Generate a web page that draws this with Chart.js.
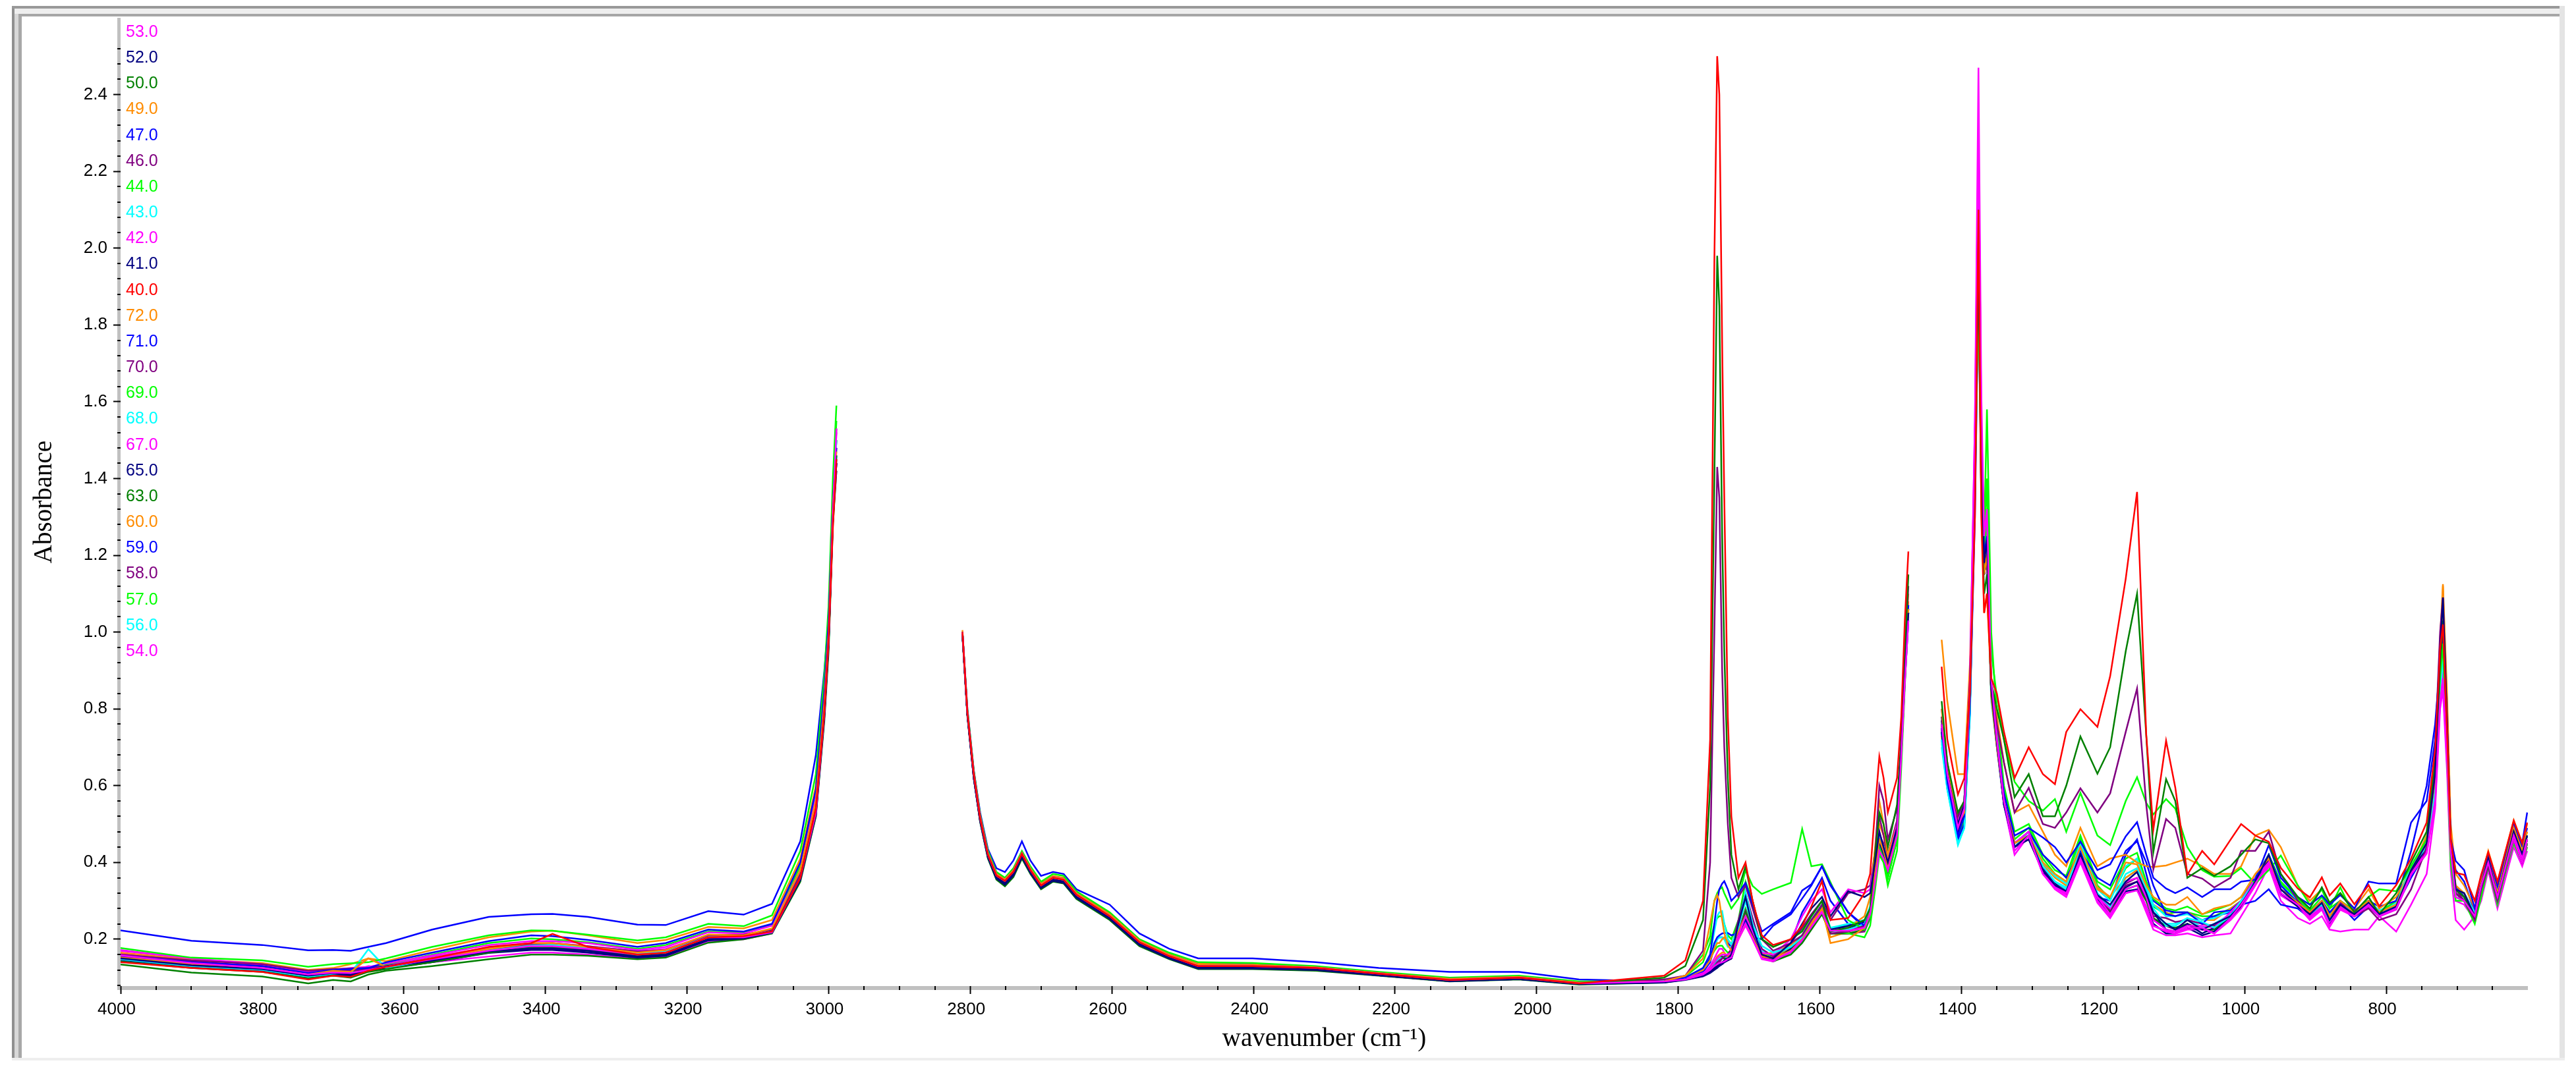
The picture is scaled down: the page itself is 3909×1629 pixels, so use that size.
<!DOCTYPE html>
<html>
<head>
<meta charset="utf-8">
<title>Absorbance spectra</title>
<script src="https://cdn.jsdelivr.net/npm/chart.js@4"></script>
<style>
html, body { margin: 0; background: #fff; }
canvas { display: block; }
</style>
</head>
<body>
<canvas id="spectra" width="3909" height="1629"></canvas>
<script>
// Sample grid, null rows in the spectra leave the two cut-out regions empty
const wavenumbers = [
  4000,3900,3800,3735,3700,3675,3650,3625,3560,3480,3420,3390,3340,3270,3230,3170,3120,3080,3040,3018,3006,3000,2994,2989, 2950,
  2811,2804,2795,2786,2775,2763,2751,2739,2727,2715,2700,2683,2668,2650,2603,2561,2519,2478,2401,2312,2223,2123,2025,1940,
  1820,1790,1765,1755,1749,1745,1742,1738,1735,1730,1725,1715,1705,1695,1682,1666,1641,1625,1612,1597,1585,1560,1537,1529,1522,1516,1510,1504,1491,1485,1480,1475, 1450,
  1428,1420,1405,1396,1388,1381,1376,1372,1368,1364,1358,1350,1340,1325,1305,1285,1268,1252,1232,1208,
  1190,1168,1152,1139,1129,1111,1098,1081,1060,1043,1020,1005,985,966,949,925,908,891,880,865,
  845,825,810,786,765,743,731,724,720,714,709,702,690,675,666,656,643,620,608,601
];

// 2800-1900 is almost the same for most samples, these four rows cover the tight band
const midA = [1.0,.79,.63,.515,.42,.366,.352,.376,.422,.38,.34,.36,.355,.316,.26,.192,.156,.13,.13,.125,.11,.094,.1,.085];
const midB = [.995,.785,.625,.51,.416,.36,.346,.37,.417,.375,.335,.355,.35,.31,.255,.187,.152,.126,.127,.122,.107,.092,.098,.084];
const midC = [1.0,.79,.635,.52,.424,.37,.356,.38,.425,.384,.344,.362,.358,.32,.265,.196,.159,.134,.133,.127,.112,.097,.102,.087];
const midD = [.995,.785,.62,.508,.413,.358,.342,.366,.414,.373,.333,.352,.347,.308,.253,.185,.15,.124,.124,.12,.106,.091,.096,.083];

const s53 = [.158,.138,.125,.108,.113,.112,.12,.128,.148,.17,.182,.182,.175,.16,.165,.205,.205,.218,.36,.53,.79,.98,1.3,1.53, null, ...midA,
  .09,.095,.108,.12,.13,.135,.138,.14,.142,.148,.152,.2,.24,.2,.15,.145,.168,.198,.232,.27,.222,.222,.23,.265,.35,.43,.41,.38,.47,.68,.87,1.03, null,
  .76,.63,.49,.54,.86,1.55,2.47,1.62,1.25,1.32,.88,.72,.56,.43,.47,.37,.335,.32,.41,.31,
  .265,.33,.34,.285,.235,.222,.215,.23,.23,.215,.255,.29,.345,.4,.32,.29,.255,.28,.235,.28,
  .26,.29,.26,.28,.37,.425,.56,.82,.88,.66,.43,.31,.3,.26,.34,.4,.31,.47,.41,.46];
const s52 = [.15,.132,.122,.105,.112,.108,.12,.13,.145,.168,.176,.176,.17,.155,.16,.2,.205,.22,.36,.53,.79,.98,1.3,1.45, null, ...midB,
  .088,.095,.105,.115,.125,.13,.135,.14,.145,.15,.16,.24,.31,.23,.16,.15,.19,.24,.28,.31,.26,.325,.31,.32,.4,.48,.44,.4,.49,.7,.89,1.05, null,
  .76,.63,.5,.55,.85,1.45,2.05,1.45,1.18,1.24,.85,.71,.56,.44,.47,.38,.34,.325,.42,.315,
  .29,.35,.375,.32,.27,.24,.225,.25,.225,.24,.26,.29,.35,.42,.33,.29,.265,.295,.25,.29,
  .265,.295,.265,.285,.38,.45,.63,.95,1.09,.76,.45,.33,.32,.26,.34,.41,.31,.48,.42,.47];
const s50 = [.142,.125,.115,.098,.105,.1,.115,.122,.14,.165,.178,.178,.17,.158,.163,.2,.205,.22,.36,.53,.79,.97,1.3,1.46, null, ...midB,
  .1,.13,.25,.6,1.4,1.98,1.85,1.25,.95,.62,.42,.33,.39,.3,.2,.18,.2,.22,.26,.3,.22,.23,.25,.28,.42,.53,.5,.44,.55,.72,.95,1.15, null,
  .82,.66,.53,.56,.85,1.4,1.95,1.35,1.1,1.15,.87,.8,.72,.57,.63,.52,.52,.6,.728,.631,
  .7,.95,1.1,.73,.427,.617,.56,.36,.385,.365,.39,.42,.46,.45,.37,.31,.28,.335,.295,.32,
  .27,.31,.265,.32,.4,.48,.66,.92,1.03,.7,.44,.33,.31,.26,.34,.4,.31,.48,.42,.47];
const s49 = [.152,.135,.125,.108,.118,.115,.15,.128,.15,.175,.19,.19,.18,.165,.172,.212,.21,.228,.38,.56,.82,1.0,1.33,1.47, null, ...midC,
  .09,.105,.15,.24,.3,.315,.3,.25,.216,.185,.17,.2,.24,.205,.155,.15,.17,.2,.24,.28,.19,.2,.23,.27,.38,.46,.43,.39,.49,.7,.9,1.06, null,
  .8,.66,.5,.53,.85,1.4,1.9,1.35,1.15,1.2,.83,.7,.56,.45,.47,.4,.37,.35,.44,.33,
  .31,.4,.395,.34,.31,.29,.29,.31,.265,.28,.29,.31,.37,.41,.33,.295,.27,.3,.26,.3,
  .27,.3,.27,.29,.38,.45,.62,.92,1.08,.74,.44,.33,.32,.26,.35,.41,.32,.49,.43,.48];
const s47 = [.157,.14,.13,.112,.12,.122,.125,.14,.165,.195,.21,.208,.198,.18,.19,.225,.22,.24,.4,.59,.85,1.03,1.34,1.48, null, ...midC,
  .09,.1,.125,.16,.24,.3,.33,.345,.351,.33,.3,.32,.347,.29,.22,.24,.27,.327,.343,.39,.343,.27,.235,.27,.38,.46,.43,.39,.49,.7,.9,1.07, null,
  .75,.61,.47,.52,.82,1.4,2.1,1.5,1.2,1.25,.85,.72,.58,.47,.49,.465,.44,.4,.454,.38,
  .395,.468,.505,.42,.36,.332,.32,.335,.31,.33,.33,.35,.355,.445,.36,.31,.29,.314,.29,.315,
  .28,.35,.345,.345,.504,.56,.72,.95,1.02,.75,.46,.404,.38,.28,.36,.42,.34,.5,.45,.53];
const s46 = [.16,.145,.135,.118,.122,.124,.125,.13,.15,.175,.188,.19,.182,.168,.172,.21,.212,.225,.37,.55,.81,1.0,1.29,1.42, null, ...midA,
  .095,.105,.17,.4,1.0,1.43,1.35,.9,.7,.5,.36,.31,.34,.28,.2,.17,.19,.21,.25,.29,.215,.22,.235,.27,.42,.6,.56,.46,.54,.7,.92,1.12, null,
  .78,.64,.52,.56,.88,1.4,2.0,1.4,1.15,1.2,.86,.76,.66,.53,.594,.5,.49,.53,.593,.53,
  .58,.74,.853,.55,.382,.513,.49,.37,.358,.335,.36,.43,.43,.48,.37,.3,.265,.3,.26,.295,
  .26,.28,.25,.265,.33,.44,.7,1.0,1.09,.75,.46,.33,.3,.25,.33,.39,.3,.47,.41,.46];
const s44 = [.177,.152,.145,.128,.135,.137,.14,.15,.18,.21,.223,.222,.212,.197,.205,.24,.234,.262,.43,.63,.89,1.07,1.4,1.59, null,
  1.0,.8,.64,.525,.43,.375,.36,.385,.43,.39,.35,.37,.365,.325,.27,.2,.165,.14,.138,.13,.115,.1,.105,.09,
  .09,.105,.16,.208,.3,.32,.33,.335,.32,.3,.28,.306,.38,.339,.318,.33,.347,.487,.39,.395,.348,.25,.225,.26,.36,.44,.41,.36,.46,.68,.88,1.07, null,
  .78,.63,.52,.56,.85,1.35,1.9,1.4,1.2,1.4,.95,.83,.72,.61,.56,.535,.565,.48,.581,.47,
  .445,.56,.622,.555,.525,.565,.54,.44,.38,.363,.365,.385,.345,.38,.418,.34,.29,.33,.28,.335,
  .26,.31,.33,.325,.39,.46,.62,.88,.97,.66,.4,.3,.3,.24,.31,.39,.29,.47,.42,.45];
const s43 = [.148,.13,.12,.102,.11,.112,.174,.125,.148,.17,.183,.185,.176,.162,.168,.208,.207,.222,.37,.54,.8,.99,1.35,1.5, null, ...midA,
  .09,.1,.125,.16,.22,.26,.27,.273,.24,.2,.187,.23,.323,.24,.183,.165,.18,.205,.25,.29,.22,.225,.24,.28,.39,.47,.44,.39,.48,.69,.89,1.06, null,
  .72,.6,.45,.49,.8,1.4,2.0,1.42,1.2,1.25,.85,.72,.57,.44,.47,.39,.35,.33,.44,.32,
  .285,.37,.385,.33,.28,.235,.235,.255,.245,.23,.26,.3,.35,.42,.33,.29,.265,.29,.25,.29,
  .265,.295,.265,.29,.39,.44,.59,.85,.93,.68,.43,.33,.32,.27,.34,.41,.32,.485,.43,.47];
const s42 = [.17,.15,.135,.115,.12,.125,.128,.137,.158,.185,.195,.195,.19,.172,.18,.218,.215,.235,.38,.57,.83,1.01,1.33,1.53, null, ...midC,
  .09,.098,.112,.125,.14,.15,.155,.16,.16,.16,.165,.21,.26,.22,.165,.16,.2,.26,.3,.33,.27,.33,.32,.33,.41,.48,.44,.4,.5,.7,.88,1.04, null,
  .8,.66,.51,.56,.88,1.55,2.3,1.55,1.25,1.3,.87,.73,.58,.45,.48,.38,.34,.32,.41,.31,
  .28,.35,.36,.31,.25,.225,.22,.235,.235,.23,.27,.3,.36,.4,.33,.29,.26,.285,.245,.285,
  .26,.29,.26,.28,.37,.43,.58,.85,.9,.67,.42,.31,.3,.25,.33,.39,.3,.46,.4,.45];
const s41 = [.146,.128,.118,.1,.108,.105,.118,.125,.143,.166,.174,.174,.166,.153,.158,.198,.203,.218,.355,.53,.79,.97,1.29,1.44, null, ...midD,
  .088,.095,.105,.115,.122,.128,.132,.135,.14,.145,.15,.21,.255,.215,.155,.145,.175,.21,.25,.285,.225,.235,.245,.28,.37,.45,.42,.385,.48,.69,.88,1.05, null,
  .74,.62,.48,.53,.84,1.45,2.0,1.4,1.15,1.2,.84,.71,.56,.44,.47,.385,.345,.32,.42,.31,
  .28,.335,.35,.31,.27,.225,.22,.24,.215,.23,.26,.29,.35,.41,.32,.285,.26,.29,.245,.285,
  .26,.29,.26,.28,.375,.44,.61,.9,1.04,.72,.43,.33,.31,.26,.34,.41,.31,.48,.42,.46];
const s40 = [.14,.125,.115,.095,.105,.102,.118,.128,.15,.18,.19,.214,.18,.16,.165,.205,.208,.22,.36,.54,.79,.98,1.27,1.45, null, ...midA,
  .105,.145,.3,.72,1.97,2.5,2.4,1.75,1.35,.78,.52,.36,.4,.3,.21,.185,.2,.235,.285,.351,.25,.255,.32,.37,.54,.676,.62,.53,.62,.78,1.03,1.21, null,
  .91,.72,.577,.62,.85,1.3,2.1,1.3,1.05,1.1,.88,.84,.74,.62,.7,.63,.604,.74,.799,.753,
  .885,1.139,1.365,.731,.486,.717,.595,.368,.43,.395,.459,.5,.47,.454,.386,.332,.309,.361,.314,.345,
  .291,.341,.286,.341,.41,.504,.695,.957,1.02,.731,.459,.373,.368,.3,.368,.427,.35,.509,.45,.504];
const s72 = [.165,.147,.138,.12,.125,.135,.15,.143,.172,.205,.22,.222,.21,.19,.198,.232,.228,.25,.41,.6,.86,1.05,1.36,1.5, null,
  1.005,.79,.635,.52,.425,.372,.358,.38,.428,.388,.348,.365,.36,.322,.268,.198,.162,.138,.135,.128,.112,.098,.103,.088,
  .09,.1,.12,.145,.175,.19,.19,.2,.205,.195,.19,.22,.26,.215,.16,.165,.185,.21,.245,.29,.22,.23,.26,.31,.44,.56,.5,.42,.5,.72,.96,1.1, null,
  .98,.82,.63,.63,.92,1.5,2.05,1.35,1.05,1.1,.86,.78,.66,.53,.55,.48,.42,.39,.49,.39,
  .41,.42,.4,.39,.388,.392,.4,.41,.39,.37,.37,.39,.47,.485,.44,.34,.3,.33,.29,.32,
  .28,.33,.28,.31,.38,.47,.68,.98,1.125,.83,.5,.37,.34,.28,.36,.43,.35,.51,.45,.5];
const s71 = [.223,.196,.185,.171,.172,.17,.18,.19,.225,.258,.265,.266,.258,.238,.237,.273,.264,.292,.455,.68,.9,1.04,1.33,1.5, null,
  1.0,.8,.64,.53,.435,.385,.375,.405,.455,.405,.365,.375,.37,.33,.29,.215,.175,.15,.15,.14,.125,.115,.115,.095,
  .09,.1,.12,.15,.19,.205,.21,.215,.216,.216,.21,.216,.25,.205,.2,.235,.265,.306,.34,.39,.34,.27,.23,.265,.37,.45,.42,.39,.49,.7,.9,1.05, null,
  .74,.6,.46,.5,.8,1.3,1.9,1.35,1.15,1.2,.84,.71,.56,.45,.48,.42,.39,.36,.43,.36,
  .34,.43,.455,.4,.34,.265,.26,.27,.24,.27,.275,.3,.36,.42,.34,.295,.27,.3,.27,.3,
  .27,.3,.285,.3,.43,.6,.76,.92,1.0,.74,.45,.38,.35,.27,.34,.41,.33,.49,.44,.49];
const s70 = [.155,.142,.13,.113,.118,.118,.122,.127,.146,.17,.182,.183,.175,.16,.166,.205,.208,.222,.365,.54,.8,.99,1.3,1.44, null, ...midB,
  .09,.096,.108,.12,.13,.135,.14,.15,.155,.16,.175,.25,.32,.255,.175,.155,.19,.23,.265,.3,.25,.32,.33,.34,.43,.52,.47,.42,.51,.71,.9,1.06, null,
  .76,.63,.5,.55,.87,1.45,2.05,1.45,1.2,1.25,.86,.72,.56,.44,.47,.385,.345,.325,.42,.31,
  .275,.345,.36,.31,.26,.255,.245,.25,.24,.235,.26,.29,.35,.41,.33,.295,.27,.3,.27,.295,
  .275,.3,.27,.285,.375,.44,.63,.98,1.1,.76,.44,.32,.3,.26,.33,.39,.3,.46,.4,.45];
const s69 = [.158,.138,.128,.11,.118,.118,.122,.135,.16,.19,.202,.2,.192,.175,.185,.22,.218,.238,.39,.58,.84,1.03,1.36,1.55, null, ...midC,
  .09,.103,.14,.19,.24,.255,.26,.26,.24,.21,.2,.25,.35,.3,.2,.18,.2,.225,.26,.3,.225,.215,.205,.235,.33,.42,.4,.34,.43,.65,.86,1.05, null,
  .74,.61,.47,.51,.82,1.4,2.0,1.45,1.25,1.58,1.0,.78,.6,.48,.5,.42,.38,.365,.47,.35,
  .33,.41,.425,.35,.305,.28,.275,.285,.265,.275,.29,.31,.36,.42,.35,.305,.275,.31,.28,.3,
  .275,.3,.27,.3,.39,.46,.63,.9,.98,.7,.43,.32,.3,.25,.33,.39,.3,.47,.41,.46];
const s68 = [.146,.128,.12,.103,.11,.11,.12,.127,.148,.172,.184,.185,.178,.164,.17,.21,.208,.224,.37,.55,.81,1.0,1.34,1.5, null, ...midA,
  .09,.1,.12,.145,.18,.2,.205,.205,.2,.18,.18,.23,.3,.23,.17,.158,.18,.21,.25,.29,.23,.24,.25,.285,.39,.47,.44,.395,.49,.7,.9,1.07, null,
  .71,.59,.445,.49,.79,1.38,1.95,1.42,1.2,1.25,.84,.71,.56,.44,.48,.4,.365,.345,.45,.33,
  .3,.39,.41,.34,.29,.26,.26,.265,.25,.255,.275,.3,.36,.42,.34,.3,.27,.3,.265,.295,
  .27,.3,.275,.295,.39,.45,.6,.87,.95,.69,.43,.33,.31,.265,.34,.41,.32,.49,.43,.47];
const s67 = [.172,.15,.133,.112,.118,.12,.15,.132,.155,.178,.19,.19,.182,.168,.175,.21,.21,.225,.37,.55,.81,.99,1.32,1.52, null, ...midB,
  .09,.095,.105,.115,.125,.13,.135,.14,.14,.145,.15,.205,.245,.205,.15,.142,.17,.2,.235,.275,.225,.225,.232,.27,.36,.44,.41,.38,.48,.7,.88,1.05, null,
  .75,.62,.5,.55,.85,1.5,2.2,1.5,1.2,1.25,.85,.72,.56,.44,.47,.37,.335,.315,.404,.3,
  .259,.32,.327,.28,.235,.22,.214,.225,.225,.215,.25,.28,.34,.395,.314,.286,.25,.277,.232,.277,
  .259,.286,.259,.277,.368,.423,.55,.82,.88,.65,.42,.3,.29,.25,.33,.39,.3,.46,.4,.45];
const s65 = [.144,.126,.116,.098,.107,.103,.116,.124,.14,.164,.172,.172,.165,.152,.157,.197,.202,.217,.355,.525,.78,.97,1.29,1.44, null, ...midD,
  .087,.094,.103,.112,.12,.125,.13,.135,.14,.145,.15,.205,.25,.21,.152,.145,.172,.205,.24,.28,.225,.23,.24,.275,.37,.45,.42,.38,.48,.69,.89,1.06, null,
  .77,.63,.51,.56,.86,1.45,2.02,1.42,1.15,1.2,.84,.71,.55,.44,.46,.375,.34,.32,.41,.305,
  .265,.325,.33,.285,.24,.215,.215,.23,.21,.22,.255,.285,.345,.405,.32,.285,.255,.285,.24,.28,
  .26,.285,.26,.28,.37,.43,.59,.87,1.0,.7,.43,.32,.3,.26,.34,.4,.31,.47,.41,.46];
const s63 = [.134,.113,.103,.085,.094,.09,.108,.118,.13,.148,.16,.16,.157,.148,.152,.191,.2,.215,.35,.52,.77,.95,1.28,1.42, null,
  .99,.78,.62,.505,.41,.355,.338,.362,.41,.37,.33,.35,.345,.305,.25,.182,.148,.122,.122,.118,.105,.09,.095,.082,
  .087,.095,.108,.125,.14,.15,.155,.155,.15,.145,.15,.21,.27,.22,.155,.142,.16,.19,.225,.265,.215,.215,.225,.26,.35,.43,.41,.36,.46,.68,.88,1.06, null,
  .75,.62,.49,.54,.84,1.4,1.95,1.4,1.15,1.2,.84,.71,.56,.45,.47,.385,.35,.325,.42,.315,
  .27,.33,.34,.3,.255,.235,.23,.24,.225,.225,.26,.295,.35,.41,.33,.3,.27,.295,.26,.29,
  .265,.29,.26,.28,.37,.43,.59,.85,.94,.68,.42,.32,.3,.25,.33,.39,.3,.46,.4,.45];
const s60 = [.152,.134,.124,.107,.115,.112,.12,.128,.15,.173,.186,.186,.178,.163,.17,.21,.208,.225,.37,.55,.81,1.0,1.33,1.48, null, ...midC,
  .09,.098,.11,.125,.14,.155,.16,.165,.165,.155,.16,.215,.265,.22,.16,.15,.175,.205,.235,.27,.205,.22,.235,.27,.37,.5,.47,.41,.5,.72,.92,1.08, null,
  .73,.61,.46,.5,.8,1.4,2.0,1.42,1.18,1.22,.84,.72,.57,.45,.48,.395,.36,.34,.44,.335,
  .31,.36,.38,.33,.29,.27,.26,.27,.25,.25,.28,.3,.36,.42,.33,.29,.265,.3,.26,.295,
  .27,.3,.27,.29,.38,.45,.62,.93,1.12,.78,.46,.34,.32,.27,.35,.42,.33,.5,.44,.48];
const s59 = [.15,.132,.122,.104,.112,.11,.118,.126,.146,.17,.18,.18,.172,.158,.164,.205,.206,.22,.36,.54,.79,.99,1.3,1.46, null, ...midB,
  .088,.098,.115,.14,.18,.2,.205,.205,.2,.19,.18,.215,.26,.21,.155,.15,.19,.27,.31,.36,.3,.24,.225,.265,.37,.45,.42,.38,.47,.68,.87,1.03, null,
  .72,.6,.45,.5,.8,1.35,2.0,1.4,1.15,1.2,.84,.7,.55,.44,.47,.38,.345,.33,.43,.31,
  .3,.42,.46,.37,.3,.275,.27,.27,.25,.26,.27,.29,.3,.33,.29,.28,.255,.29,.25,.29,
  .25,.285,.26,.285,.36,.43,.6,.84,.92,.67,.42,.34,.31,.26,.34,.4,.31,.48,.42,.47];
const s58 = [.148,.13,.12,.103,.11,.107,.118,.125,.143,.167,.177,.178,.17,.156,.162,.202,.204,.22,.36,.53,.79,.98,1.29,1.44, null, ...midD,
  .088,.096,.107,.118,.13,.14,.145,.15,.15,.15,.16,.22,.275,.225,.16,.15,.175,.205,.24,.275,.215,.215,.22,.255,.36,.47,.45,.4,.49,.7,.89,1.05, null,
  .75,.62,.49,.54,.85,1.42,2.0,1.42,1.18,1.23,.85,.71,.55,.44,.46,.38,.34,.32,.41,.31,
  .27,.34,.35,.3,.25,.235,.225,.24,.225,.22,.255,.285,.345,.4,.32,.29,.265,.29,.25,.285,
  .26,.29,.26,.28,.37,.43,.6,.9,1.05,.73,.43,.32,.3,.25,.33,.39,.3,.46,.4,.45];
const s57 = [.155,.136,.125,.106,.115,.114,.12,.13,.152,.176,.188,.188,.18,.166,.172,.212,.21,.226,.375,.56,.82,1.01,1.34,1.53, null, ...midA,
  .09,.1,.125,.15,.17,.18,.183,.183,.175,.165,.17,.22,.28,.23,.165,.155,.18,.21,.245,.285,.22,.225,.235,.27,.37,.45,.42,.37,.47,.68,.88,1.06, null,
  .73,.61,.47,.51,.82,1.4,2.0,1.42,1.2,1.3,.88,.75,.59,.46,.49,.41,.37,.35,.46,.34,
  .305,.385,.41,.34,.285,.265,.27,.27,.26,.26,.28,.3,.355,.42,.345,.3,.27,.3,.26,.3,
  .27,.295,.27,.29,.38,.44,.6,.86,.94,.67,.41,.31,.3,.25,.32,.39,.3,.45,.4,.44];
const s56 = [.144,.127,.118,.1,.108,.106,.118,.124,.142,.166,.176,.176,.17,.156,.162,.202,.204,.22,.36,.54,.79,.99,1.32,1.48, null, ...midC,
  .088,.097,.11,.122,.135,.145,.15,.155,.155,.15,.155,.21,.27,.22,.16,.15,.175,.21,.245,.285,.23,.235,.245,.28,.38,.46,.43,.39,.48,.69,.89,1.06, null,
  .7,.59,.45,.49,.78,1.38,1.98,1.4,1.15,1.2,.82,.7,.56,.44,.47,.39,.35,.335,.44,.32,
  .28,.36,.38,.33,.27,.24,.24,.255,.23,.24,.265,.295,.35,.41,.33,.29,.265,.29,.25,.29,
  .265,.295,.265,.285,.38,.44,.6,.86,.94,.68,.42,.33,.31,.26,.34,.41,.31,.48,.42,.46];
const s54 = [.162,.14,.128,.11,.115,.115,.13,.125,.14,.155,.165,.165,.16,.15,.155,.195,.2,.215,.355,.52,.78,.97,1.3,1.52, null, ...midD,
  .09,.097,.11,.13,.15,.165,.175,.175,.165,.15,.15,.2,.235,.2,.148,.142,.165,.195,.23,.27,.22,.22,.23,.265,.35,.43,.4,.37,.47,.68,.87,1.03, null,
  .77,.64,.51,.56,.87,1.5,2.3,1.55,1.22,1.28,.86,.72,.55,.42,.47,.37,.33,.31,.4,.295,
  .255,.32,.33,.27,.225,.21,.21,.215,.205,.21,.215,.26,.32,.39,.3,.255,.24,.26,.225,.22,
  .225,.225,.26,.22,.29,.37,.54,.8,.85,.63,.38,.25,.225,.26,.3,.38,.28,.44,.39,.43];

const sampleLabels = ['53.0','52.0','50.0','49.0','47.0','46.0','44.0','43.0','42.0','41.0','40.0','72.0','71.0','70.0','69.0','68.0','67.0','65.0','63.0','60.0','59.0','58.0','57.0','56.0','54.0'];
const spectra = [s53,s52,s50,s49,s47,s46,s44,s43,s42,s41,s40,s72,s71,s70,s69,s68,s67,s65,s63,s60,s59,s58,s57,s56,s54];
const sampleColors = ['#ff00ff','#000080','#008000','#ff8c00','#0000ff','#800080','#00ff00','#00ffff','#ff00ff','#000080','#ff0000','#ff8c00','#0000ff','#800080','#00ff00','#00ffff','#ff00ff','#000080','#008000','#ff8c00','#0000ff','#800080','#00ff00','#00ffff','#ff00ff'];

const xMajorTicks = [4000,3800,3600,3400,3200,3000,2800,2600,2400,2200,2000,1800,1600,1400,1200,1000,800];
const yMajorTicks = [0.2,0.4,0.6,0.8,1.0,1.2,1.4,1.6,1.8,2.0,2.2,2.4];

// Minor ticks, band along the axes, outer window frame and the sample list
const decorations = {
  id: 'decorations',
  beforeDraw(chart) {
    const c = chart.ctx;
    const a = chart.chartArea;
    c.save();
    c.fillStyle = '#909090'; c.fillRect(18, 9, 4, 1600);
    c.fillStyle = '#d8d8d8'; c.fillRect(22, 13, 6, 1596);
    c.fillStyle = '#a8a8a8'; c.fillRect(28, 21, 5, 1588);
    c.fillStyle = '#999999'; c.fillRect(18, 9, 3870, 4);
    c.fillStyle = '#eeeeee'; c.fillRect(22, 13, 3866, 8);
    c.fillStyle = '#a6a6a6'; c.fillRect(28, 21, 3860, 4);
    c.fillStyle = '#e4e4e4'; c.fillRect(3884, 9, 8, 1600);
    c.fillStyle = '#eeeeee'; c.fillRect(18, 1606, 3874, 4);
    c.fillStyle = '#c0c0c0';
    c.fillRect(a.left - 5, a.top, 5, a.bottom - a.top + 6);
    c.fillRect(a.left, a.bottom, a.right - a.left, 6);
    c.restore();
  },
  afterDraw(chart) {
    const c = chart.ctx;
    const a = chart.chartArea;
    c.save();
    c.strokeStyle = '#000';
    c.lineWidth = 2;
    c.beginPath();
    for (let w = 3950; w >= 650; w -= 50) {
      if (w % 200 === 0) continue;
      const x = Math.round(chart.scales.x.getPixelForValue(w));
      c.moveTo(x, a.bottom);
      c.lineTo(x, a.bottom + 6);
    }
    for (let k = 2; k <= 63; k++) {
      if (k % 5 === 0) continue;
      const y = Math.round(chart.scales.y.getPixelForValue(k * 0.04));
      c.moveTo(a.left - 5, y);
      c.lineTo(a.left, y);
    }
    c.stroke();
    c.font = '25px "Liberation Sans"';
    c.textBaseline = 'middle';
    c.textAlign = 'left';
    sampleLabels.forEach((label, i) => {
      c.fillStyle = sampleColors[i];
      c.fillText(label, 191, 49 + i * 39.17);
    });
    c.restore();
  }
};

new Chart(document.getElementById('spectra').getContext('2d'), {
  type: 'line',
  data: {
    datasets: spectra.map((values, i) => ({
      label: sampleLabels[i],
      data: wavenumbers.map((w, j) => ({ x: w, y: values[j] })),
      borderColor: sampleColors[i],
      borderWidth: 2.5,
      pointRadius: 0,
      tension: 0,
      spanGaps: false,
      order: sampleLabels[i] === '40.0' ? -1 : i,
    })),
  },
  options: {
    responsive: false,
    animation: false,
    devicePixelRatio: 1,
    layout: { padding: { left: 0, top: 27, right: 73, bottom: 0 } },
    plugins: { legend: { display: false }, tooltip: { enabled: false } },
    scales: {
      x: {
        type: 'linear',
        reverse: true,
        min: 600,
        max: 4000,
        afterBuildTicks: scale => { scale.ticks = xMajorTicks.map(value => ({ value })); },
        afterFit: scale => { scale.height = 132; },
        border: { display: false },
        grid: { drawOnChartArea: false, tickLength: 12, tickWidth: 2, tickColor: '#000' },
        ticks: {
          autoSkip: false,
          maxRotation: 0,
          padding: 8,
          labelOffset: -6,
          color: '#000',
          font: { family: '"Liberation Sans"', size: 26 },
          callback: value => String(value),
        },
        title: {
          display: true,
          text: 'wavenumber (cm⁻¹)',
          color: '#000',
          font: { family: '"Liberation Serif"', size: 39 },
          padding: { top: 0, bottom: 28 },
        },
      },
      y: {
        min: 0.078,
        max: 2.6,
        afterBuildTicks: scale => { scale.ticks = yMajorTicks.map(value => ({ value })); },
        afterFit: scale => { scale.width = 183; },
        border: { display: false },
        grid: { drawOnChartArea: false, tickLength: 11, tickWidth: 2, tickColor: '#000' },
        ticks: {
          autoSkip: false,
          padding: 9,
          color: '#000',
          font: { family: '"Liberation Sans"', size: 26 },
          callback: value => value.toFixed(1),
        },
        title: {
          display: true,
          text: 'Absorbance',
          color: '#000',
          font: { family: '"Liberation Serif"', size: 39 },
          padding: { top: 44, bottom: 0 },
        },
      },
    },
  },
  plugins: [decorations],
});
</script>
</body>
</html>
